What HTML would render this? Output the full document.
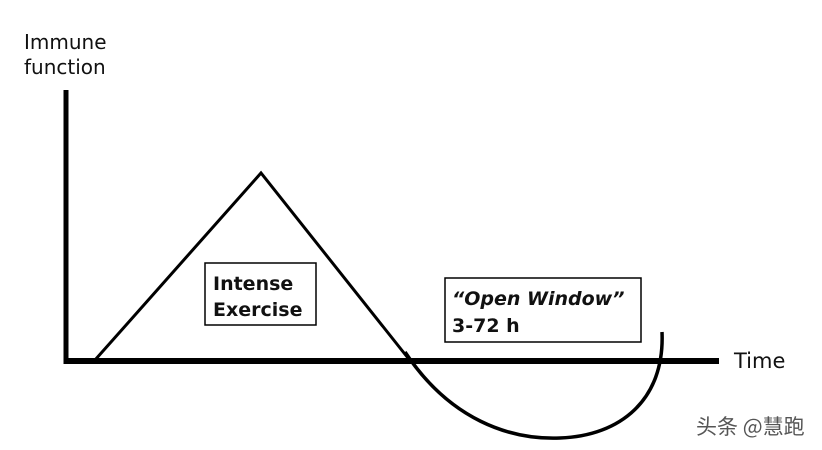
<!DOCTYPE html>
<html><head><meta charset="utf-8"><style>
body{margin:0;background:#fff;}
svg{display:block}
text{font-family:"DejaVu Sans","Liberation Sans",sans-serif;fill:#111}
</style></head><body>
<svg width="822" height="450" viewBox="0 0 822 450">
<rect width="822" height="450" fill="#fff"/>
<line x1="66" y1="90" x2="66" y2="364" stroke="#000" stroke-width="5"/>
<line x1="64" y1="361" x2="719" y2="361" stroke="#000" stroke-width="6"/>
<polyline points="95,360 261,173 408,358" fill="none" stroke="#000" stroke-width="3"/>
<path d="M405,352 C450,420 510,440 560,438 C620,436 665,400 662,332" fill="none" stroke="#000" stroke-width="3.5"/>
<rect x="205" y="263" width="111" height="62" fill="#fff" stroke="#000" stroke-width="1.5"/>
<text x="213" y="290" font-size="19" font-weight="bold" fill="#222">Intense</text>
<text x="213" y="316" font-size="19" font-weight="bold" fill="#222">Exercise</text>
<rect x="445" y="278" width="196" height="64" fill="#fff" stroke="#000" stroke-width="1.5"/>
<text x="452" y="305" font-size="19" font-style="italic" font-weight="bold" fill="#222">“Open Window”</text>
<text x="452" y="332" font-size="19" font-weight="bold">3-72 h</text>
<text x="24" y="49" font-size="20">Immune</text>
<text x="24" y="74" font-size="20">function</text>
<text x="734" y="368" font-size="21">Time</text>
<text x="696" y="434" font-size="21" style="font-family:'Noto Sans CJK SC',sans-serif;fill:#555">头条 @慧跑</text>
</svg>
</body></html>
